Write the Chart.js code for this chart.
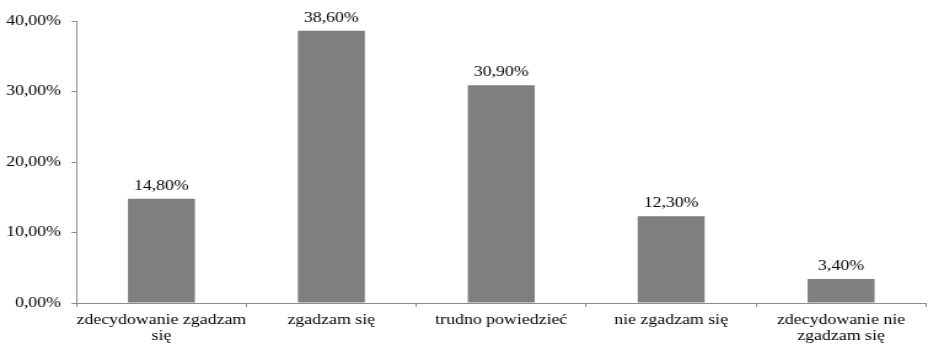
<!DOCTYPE html>
<html>
<head>
<meta charset="utf-8">
<script src="https://cdn.jsdelivr.net/npm/chart.js@4/dist/chart.umd.min.js"></script>
<style>
  html, body { margin: 0; padding: 0; background: #ffffff; overflow: hidden; }
  #wrap {
    width: 755px; height: 346px;
    transform: scaleX(1.2291); transform-origin: 0 0;
  }
  canvas { display: block; }
</style>
</head>
<body>
<div id="wrap"><canvas id="chart" width="755" height="346"></canvas></div>
<script>
// Survey answers and their shares (percent)
const categories = [
  ["zdecydowanie zgadzam", "się"],
  "zgadzam się",
  "trudno powiedzieć",
  "nie zgadzam się",
  ["zdecydowanie nie", "zgadzam się"]
];
const shares = [14.8, 38.6, 30.9, 12.3, 3.4];
const yTicks = [0, 10, 20, 30, 40];

const fmt = v => v.toFixed(2).replace('.', ',') + '%';
const FONT = { family: "'Liberation Serif', 'Times New Roman', serif", size: 14.5 };
const AXIS = '#8c8c8c';

// Value labels above every bar
const valueLabels = {
  id: 'valueLabels',
  afterDatasetsDraw(chart) {
    const ctx = chart.ctx;
    const meta = chart.getDatasetMeta(0);
    ctx.save();
    ctx.font = `${FONT.size}px ${FONT.family}`;
    ctx.fillStyle = '#000000';
    ctx.textAlign = 'center';
    ctx.textBaseline = 'alphabetic';
    meta.data.forEach((bar, i) => {
      ctx.fillText(fmt(shares[i]), bar.x, bar.y - 9);
    });
    ctx.restore();
  }
};

new Chart(document.getElementById('chart'), {
  type: 'bar',
  data: {
    labels: categories,
    datasets: [{
      data: shares,
      backgroundColor: '#7f7f7f',
      borderWidth: 0,
      categoryPercentage: 1,
      barPercentage: 0.394
    }]
  },
  options: {
    responsive: false,
    animation: false,
    devicePixelRatio: 1,
    layout: { padding: { top: 21, right: 1.6, bottom: 0, left: 0 } },
    plugins: { legend: { display: false }, tooltip: { enabled: false } },
    scales: {
      x: {
        grid: { drawOnChartArea: false, drawTicks: true, tickLength: 4, color: AXIS, offset: true },
        border: { display: true, color: AXIS, width: 1 },
        ticks: { color: '#000000', font: { ...FONT, lineHeight: 1.12 }, padding: 5, maxRotation: 0, autoSkip: false },
        afterFit: s => { s.height = 43; }
      },
      y: {
        min: 0, max: 40,
        afterBuildTicks: s => { s.ticks = yTicks.map(v => ({ value: v })); },
        grid: { drawOnChartArea: false, drawTicks: true, tickLength: 4, color: AXIS },
        border: { display: true, color: AXIS, width: 1 },
        ticks: { color: '#000000', font: FONT, padding: 8.6, callback: v => fmt(v) },
        afterFit: s => { s.width = 62.2; }
      }
    }
  },
  plugins: [valueLabels]
});
</script>
</body>
</html>
